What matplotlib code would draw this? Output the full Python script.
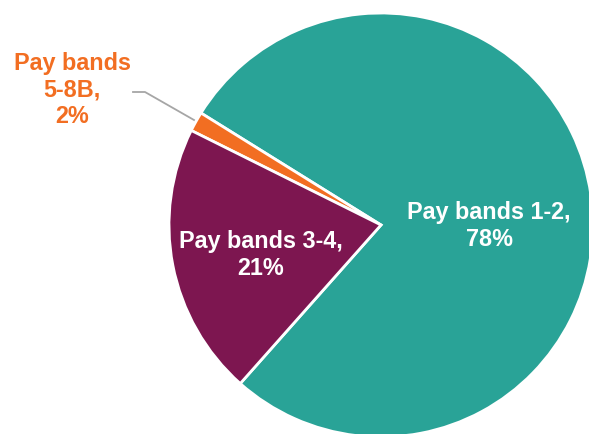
import matplotlib.pyplot as plt

# Share of staff by pay band
categories = ['Pay bands 1-2', 'Pay bands 5-8B', 'Pay bands 3-4']
values = [77.7, 1.5, 20.8]
pct_labels = ['78%', '2%', '21%']
colors = ['#29A397', '#F26E22', '#7D1650']

plt.rcParams['font.family'] = ['Liberation Sans', 'DejaVu Sans']

fig = plt.figure(figsize=(5.89, 4.35), dpi=100)
ax = fig.add_axes([0, 0, 1, 1])

# pie drawn in pixel-like data units so it can be clipped by the frame
wedges, _ = ax.pie(values, colors=colors, radius=212, center=(381, 209),
                   startangle=228.4, counterclock=True,
                   wedgeprops=dict(edgecolor='white', linewidth=2))

ax.set_xlim(0, 589)
ax.set_ylim(0, 435)
ax.set_aspect('equal')
ax.axis('off')

ax.text(489, 209, categories[0] + ',\n' + pct_labels[0], color='white',
        fontsize=16.8, fontweight='bold', ha='center', va='center')
ax.text(261, 180, categories[2] + ',\n' + pct_labels[2], color='white',
        fontsize=16.8, fontweight='bold', ha='center', va='center')

# outside label with leader line for the small slice
ax.plot([133, 145, 194], [342, 342, 314], color='#A6A6A6', lw=1.3)
ax.text(72, 345, 'Pay bands\n5-8B,\n' + pct_labels[1], color=colors[1],
        fontsize=16.8, fontweight='bold', ha='center', va='center')

fig.savefig('out.png', dpi=100)
